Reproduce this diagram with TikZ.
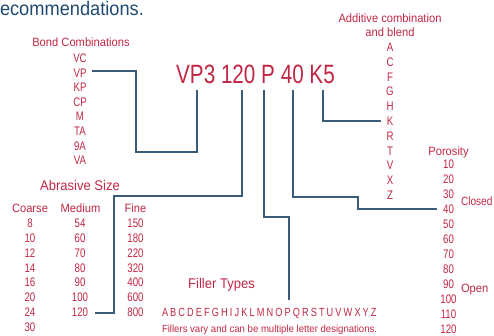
\documentclass[tikz,border=0pt]{standalone}
\usepackage{fontspec}
\setmainfont{Liberation Sans}
\newfontfamily\df{Liberation Sans}[FakeStretch=0.78]
\newfontfamily\lf{Liberation Sans}[FakeStretch=0.93]
\newfontfamily\nf{Liberation Sans}[FakeStretch=0.84]
\definecolor{tred}{RGB}{193,39,69}
\definecolor{tnavy}{RGB}{30,74,114}
\definecolor{tline}{RGB}{58,92,120}
\newcommand\lk{\kern2.1pt}
\tikzset{
  txt/.style={inner sep=0pt, outer sep=0pt, text=tred, anchor=base},
  caps/.style={txt, font=\df\fontsize{12.4}{14}\selectfont},
  lbl/.style={txt, font=\lf\fontsize{12}{14}\selectfont},
  head/.style={txt, font=\lf\fontsize{14}{16}\selectfont},
  conn/.style={draw=tline, line width=1.2pt}
}
\begin{document}
\begin{tikzpicture}[x=1pt,y=-1pt]
\useasboundingbox (0,0) rectangle (494,335);
% top cut text
\node[txt, anchor=base west, text=tnavy, font=\lf\fontsize{19.6}{22}\selectfont] (rec) at (0,15) {ecommendations.};
% title
\node[txt, font=\df\fontsize{26.5}{30}\selectfont] (title) at (255.5,83) {VP3 120 P 40 K5};
% bond combinations
\node[lbl] (bond) at (81,46.5) {Bond Combinations};
\foreach \t [count=\i from 0] in {VC,VP,KP,CP,M,TA,9A,VA}
  \node[caps] (b\i) at (80,62.5+14.6*\i) {\t};
% additive
\node[lbl] (add1) at (390,22) {Additive combination};
\node[lbl] (add2) at (390,36.5) {and blend};
\foreach \t [count=\i from 0] in {A,C,F,G,H,K,R,T,V,X,Z}
  \node[caps] (a\i) at (390,51.5+14.8*\i) {\t};
% porosity
\node[lbl] (por) at (448.5,155.5) {Porosity};
\foreach \t [count=\i from 0] in {10,20,30,40,50,60,70,80,90,100,110,120}
  \node[caps] (p\i) at (448.5,168.5+15.0*\i) {\t};
\node[txt, anchor=base west, font=\nf\fontsize{12}{14}\selectfont] (closed) at (461,205.3) {Closed};
\node[lbl, anchor=base west] (open) at (461,292.3) {Open};
% abrasive size
\node[head] (abr) at (80,190) {Abrasive Size};
\node[lbl] (coarse) at (30,212.3) {Coarse};
\node[lbl] (medium) at (80.5,212.3) {Medium};
\node[lbl] (fine) at (135.5,212.3) {Fine};
\foreach \t [count=\i from 0] in {8,10,12,14,16,20,24,30}
  \node[caps] (c\i) at (30,227.5+14.85*\i) {\t};
\foreach \t [count=\i from 0] in {54,60,70,80,90,100,120}
  \node[caps] (m\i) at (80,227.5+14.85*\i) {\t};
\foreach \t [count=\i from 0] in {150,180,220,320,400,600,800}
  \node[caps] (f\i) at (135.5,227.5+14.85*\i) {\t};
% filler types
\node[head] (fil) at (221.5,288) {Filler Types};
\node[txt, anchor=base west, font=\df\fontsize{11.8}{13}\selectfont] (letters) at (162,316.2)
  {A\lk B\lk C\lk D\lk E\lk F\lk G\lk H\lk I\lk J\lk K\lk L\lk M\lk N\lk O\lk P\lk Q\lk R\lk S\lk T\lk U\lk V\lk W\lk X\lk Y\lk Z};
\node[txt, anchor=base west, font=\lf\fontsize{10.3}{12}\selectfont] (note) at (162,332.5)
  {Fillers vary and can be multiple letter designations.};
% connector ends
\coordinate (s1) at (197,90);
\coordinate (s2) at (242,90);
\coordinate (s3) at (264,90);
\coordinate (s4) at (293,90);
\coordinate (s5) at (323,90);
\coordinate (vpend) at (92,71);
\coordinate (m120end) at (95,313);
\coordinate (pend) at (289,300);
\coordinate (p40end) at (437,209);
\coordinate (kend) at (381,121);
% connectors
\draw[conn] (vpend) -| (136,152) -| (s1);
\draw[conn] (s2) |- (114,196) |- (m120end);
\draw[conn] (s3) |- (289,217) -- (pend);
\draw[conn] (s4) |- (358,197) |- (p40end);
\draw[conn] (s5) |- (kend);
\end{tikzpicture}
\end{document}
